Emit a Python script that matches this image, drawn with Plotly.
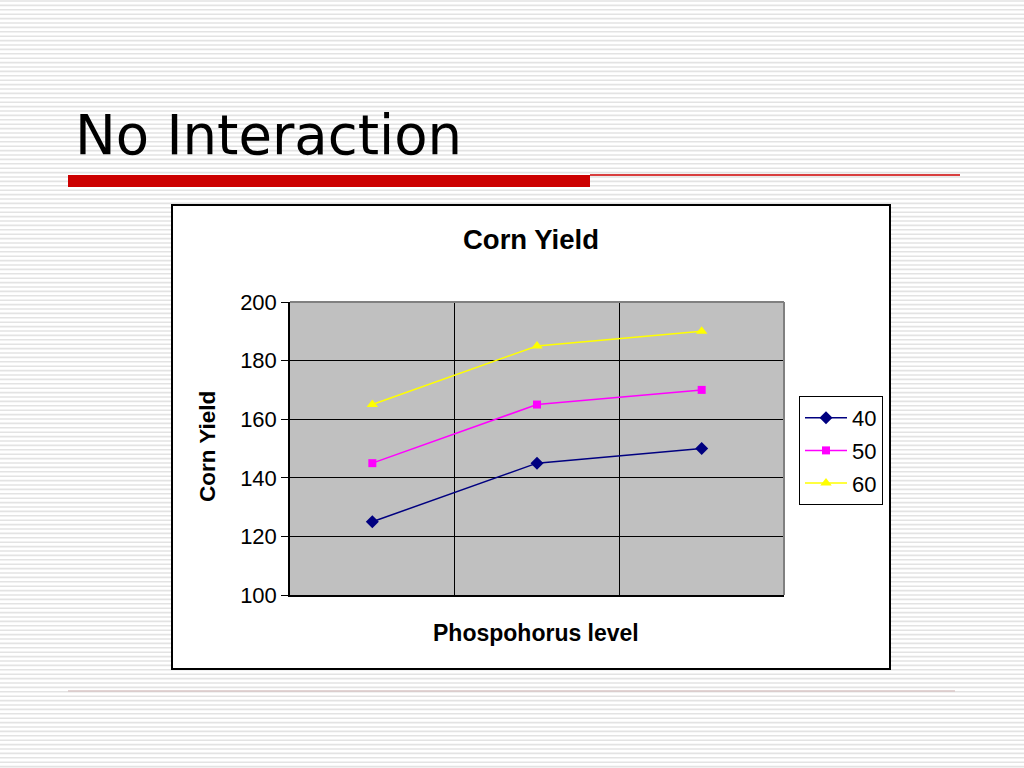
import plotly.graph_objects as go

# ---- data ----
categories = [0, 1, 2]          # phosphorus levels (no tick labels shown in the reference)
series_names = ["40", "50", "60"]
yield_40 = [125, 145, 150]
yield_50 = [145, 165, 170]
yield_60 = [165, 185, 190]
y_ticks = [100, 120, 140, 160, 180, 200]

W, H = 1024, 768


def px_x(x):
    return x / W


def px_y(y):
    return 1 - y / H


fig = go.Figure()

styles = [
    (yield_40, "#000080", "diamond", 10),
    (yield_50, "#FF00FF", "square", 8),
    (yield_60, "#FFFF00", "triangle-up", 10),
]
for name, (vals, col, sym, size) in zip(series_names, styles):
    fig.add_trace(go.Scatter(
        x=categories, y=vals, name=name, mode="lines+markers",
        line=dict(color=col, width=1.5),
        marker=dict(symbol=sym, size=size, color=col),
        legendgroup=name,
    ))

shapes = []
# striped slide background
stripe_path = ""
y = 1.0
while y < H:
    yy = px_y(y)
    stripe_path += f"M0,{yy:.5f} L1,{yy:.5f} "
    y += 4.4
shapes.append(dict(type="path", xref="paper", yref="paper", path=stripe_path,
                   line=dict(color="#E3E3E3", width=1.6), layer="below"))
# red title bar and rules
shapes.append(dict(type="rect", xref="paper", yref="paper",
                   x0=px_x(68), x1=px_x(590), y0=px_y(187), y1=px_y(175),
                   fillcolor="#CC0000", line=dict(width=0), layer="below"))
shapes.append(dict(type="line", xref="paper", yref="paper",
                   x0=px_x(590), x1=px_x(960), y0=px_y(175), y1=px_y(175),
                   line=dict(color="#CC0000", width=1.3), layer="below"))
shapes.append(dict(type="line", xref="paper", yref="paper",
                   x0=px_x(68), x1=px_x(955), y0=px_y(691), y1=px_y(691),
                   line=dict(color="#D9C6C6", width=1.5), layer="below"))
# chart box
shapes.append(dict(type="rect", xref="paper", yref="paper",
                   x0=px_x(172), x1=px_x(890), y0=px_y(669), y1=px_y(205),
                   fillcolor="white", line=dict(color="black", width=2), layer="below"))
# plot area gray
shapes.append(dict(type="rect", xref="x domain", yref="y domain",
                   x0=0, x1=1, y0=0, y1=1,
                   fillcolor="#C0C0C0", line=dict(width=0), layer="below"))
# gray top/right border of plot area
shapes.append(dict(type="line", xref="x domain", yref="y domain",
                   x0=0, x1=1, y0=1, y1=1, line=dict(color="#808080", width=2), layer="above"))
shapes.append(dict(type="line", xref="x domain", yref="y domain",
                   x0=1, x1=1, y0=0, y1=1, line=dict(color="#808080", width=2), layer="above"))

annotations = [
    dict(text="No Interaction", xref="paper", yref="paper", x=px_x(73), y=px_y(135),
         xanchor="left", yanchor="middle", showarrow=False,
         font=dict(family="DejaVu Sans", size=54.5, color="black")),
    dict(text="<b>Corn Yield</b>", xref="paper", yref="paper", x=px_x(531), y=px_y(239),
         xanchor="center", yanchor="middle", showarrow=False,
         font=dict(family="Liberation Sans, Arial", size=27.5, color="black")),
    dict(text="<b>Phospohorus level</b>", xref="paper", yref="paper", x=px_x(536), y=px_y(633),
         xanchor="center", yanchor="middle", showarrow=False,
         font=dict(family="Liberation Sans, Arial", size=23, color="black")),
    dict(text="<b>Corn Yield</b>", xref="paper", yref="paper", x=px_x(207), y=px_y(447),
         xanchor="center", yanchor="middle", showarrow=False, textangle=-90,
         font=dict(family="Liberation Sans, Arial", size=22.5, color="black")),
]

fig.update_layout(
    width=W, height=H,
    margin=dict(l=0, r=0, t=0, b=0, pad=0, autoexpand=False),
    paper_bgcolor="white",
    plot_bgcolor="rgba(0,0,0,0)",
    font=dict(family="Liberation Sans, Arial", size=22, color="black"),
    shapes=shapes,
    annotations=annotations,
    showlegend=True,
    legend=dict(
        x=px_x(799), y=px_y(396), xanchor="left", yanchor="top",
        bgcolor="white", bordercolor="black", borderwidth=1,
        font=dict(family="Liberation Sans, Arial", size=22, color="black"),
        traceorder="grouped", tracegroupgap=1, itemwidth=42,
    ),
    xaxis=dict(
        domain=[px_x(290), px_x(784)],
        range=[-0.5, 2.5],
        tickvals=[0.5, 1.5],
        showticklabels=False,
        ticks="",
        showgrid=True, gridcolor="black", gridwidth=1.2,
        zeroline=False,
        showline=True, linecolor="black", linewidth=1.5,
        fixedrange=True,
    ),
    yaxis=dict(
        domain=[px_y(595), px_y(302)],
        range=[100, 200],
        tickvals=y_ticks,
        ticks="outside", ticklen=7, tickcolor="black", tickwidth=1.2,
        showgrid=True, gridcolor="black", gridwidth=1.2,
        zeroline=False,
        showline=True, linecolor="black", linewidth=1.5,
        tickfont=dict(family="Liberation Sans, Arial", size=22, color="black"),
        fixedrange=True,
    ),
)

fig.write_html("out.html", config={"displayModeBar": False},
               post_script="document.body.style.margin='0';")
